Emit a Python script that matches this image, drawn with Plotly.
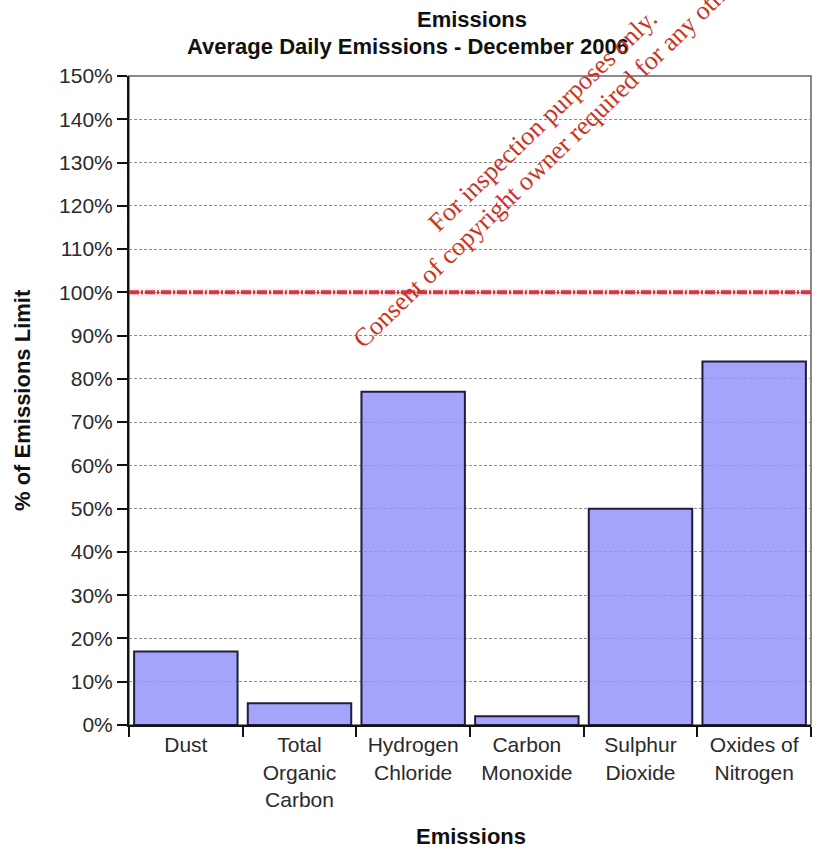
import plotly.graph_objects as go

# Emission categories and their average daily values (% of permitted limit)
categories = ["Dust", "Total<br>Organic<br>Carbon", "Hydrogen<br>Chloride",
              "Carbon<br>Monoxide", "Sulphur<br>Dioxide", "Oxides of<br>Nitrogen"]
percent_of_limit = [17, 5, 77, 2, 50, 84]
emission_limit = 100
y_ticks = list(range(0, 151, 10))
y_tick_labels = [f"{v}%" for v in y_ticks]

FONT = "Liberation Sans, Arial, sans-serif"
SERIF = "Liberation Serif, Times New Roman, serif"

fig = go.Figure()
fig.add_trace(go.Bar(
    x=categories,
    y=percent_of_limit,
    width=0.91,
    marker=dict(color="rgba(148,148,250,0.85)",
                line=dict(color="#1e1e3c", width=2)),
    hoverinfo="x+y",
))

# Limit line at 100 %
fig.add_hline(y=emission_limit, line=dict(color="rgba(250,200,210,0.35)", width=8), layer="below")
fig.add_hline(y=emission_limit, line=dict(color="rgba(208,48,58,0.95)", width=4,
                                          dash="10px,2px,2px,2px"))

# Plot-area frame (top and right edges in grey)
fig.add_shape(type="rect", xref="paper", yref="paper", x0=0, x1=1, y0=0, y1=1,
              line=dict(color="#8a8a8a", width=2), layer="below")

fig.update_layout(
    width=817, height=856,
    margin=dict(l=129, r=6, t=76, b=131),
    paper_bgcolor="white", plot_bgcolor="white",
    showlegend=False,
    font=dict(family=FONT, color="#222"),
    xaxis=dict(
        showline=True, linecolor="#111", linewidth=2,
        ticks="outside", tickson="boundaries", ticklen=10, tickcolor="#111", tickwidth=1.5,
        showgrid=False, tickfont=dict(size=21, family=FONT, color="#2a2a2a"),
        range=[-0.5, 5.5],
    ),
    yaxis=dict(
        range=[0, 150], tickvals=y_ticks, ticktext=y_tick_labels,
        showline=True, linecolor="#111", linewidth=2,
        ticks="outside", ticklen=10, tickcolor="#111", tickwidth=1.5,
        showgrid=True, gridcolor="#8c8c8c", gridwidth=1, griddash="3px,2px",
        zeroline=False, tickfont=dict(size=21, family=FONT, color="#2a2a2a"),
    ),
    bargap=0.09,
)

annotations = [
    dict(text="<b>Emissions</b>", x=472, y=20),
    dict(text="<b>Average Daily Emissions - December 2006</b>", x=408, y=46),
    dict(text="<b>Emissions</b>", x=471, y=836),
]
for a in annotations:
    fig.add_annotation(text=a["text"], xref="paper", yref="paper",
                       x=(a["x"] - 129) / (811 - 129), y=(725 - a["y"]) / (725 - 76),
                       xanchor="center", yanchor="middle", showarrow=False,
                       font=dict(size=22, family=FONT, color="#111"))

fig.add_annotation(text="<b>% of Emissions Limit</b>", xref="paper", yref="paper",
                   x=(22 - 129) / (811 - 129), y=(725 - 400) / (725 - 76),
                   xanchor="center", yanchor="middle", textangle=-90, showarrow=False,
                   font=dict(size=22, family=FONT, color="#111"))

# Red diagonal notice
notice = [
    ("For inspection purposes only.", 543, 121),
    ("Consent of copyright owner required for any other use.", 563, 144),
]
for text, px, py in notice:
    fig.add_annotation(text=text, xref="paper", yref="paper",
                       x=(px - 129) / (811 - 129), y=(725 - py) / (725 - 76),
                       xanchor="center", yanchor="middle", textangle=-44, showarrow=False,
                       font=dict(size=26, family=SERIF, color="#cc3322"))

fig.write_html("out.html")
